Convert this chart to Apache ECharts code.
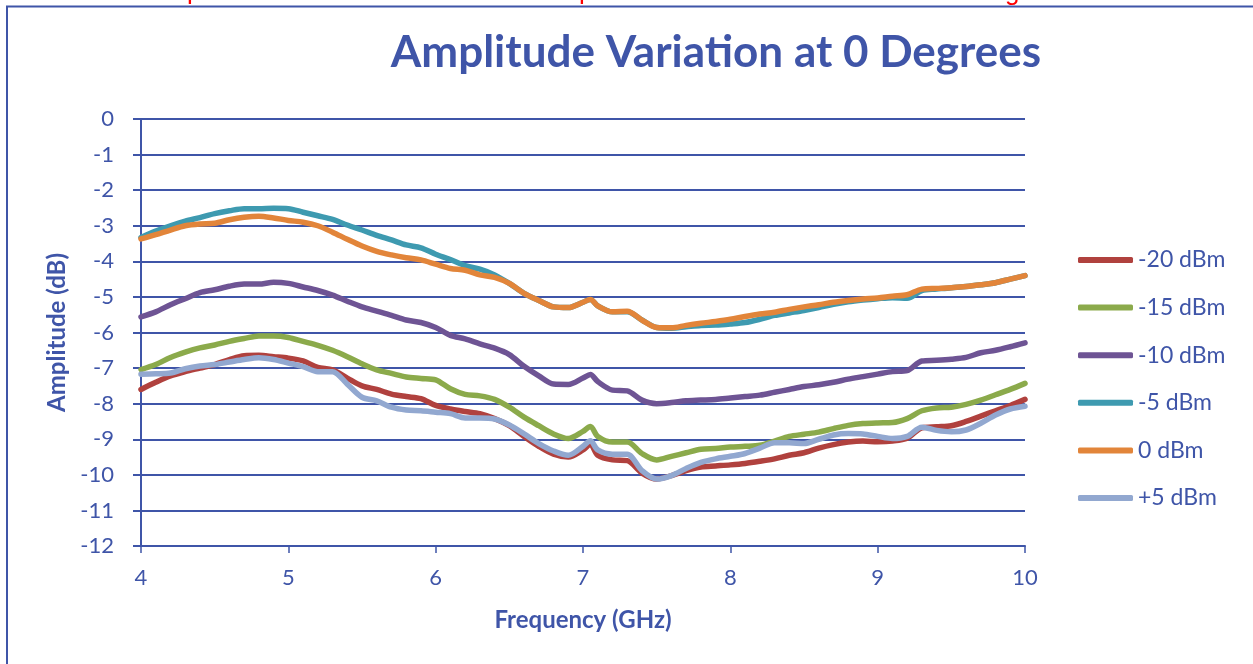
<!DOCTYPE html>
<html>
<head>
<meta charset="utf-8">
<script src="https://cdn.jsdelivr.net/npm/echarts@6/dist/echarts.min.js"></script>
<style>html,body{margin:0;padding:0;background:#fff;}#c{width:1253px;height:664px;}</style>
</head>
<body>
<div id="c"></div>
<script>
const freq = [4.0,4.1,4.2,4.3,4.4,4.5,4.6,4.7,4.8,4.9,5.0,5.1,5.2,5.3,5.4,5.5,5.6,5.7,5.8,5.9,6.0,6.1,6.2,6.3,6.4,6.5,6.6,6.7,6.8,6.9,7.0,7.05,7.1,7.2,7.3,7.4,7.5,7.6,7.7,7.8,7.9,8.0,8.1,8.2,8.3,8.4,8.5,8.6,8.7,8.8,8.9,9.0,9.1,9.2,9.3,9.4,9.5,9.6,9.7,9.8,9.9,10.0];
const seriesNames = ['-20 dBm','-15 dBm','-10 dBm','-5 dBm','0 dBm','+5 dBm'];
const m20 = [-7.60,-7.40,-7.22,-7.10,-7.00,-6.90,-6.76,-6.65,-6.64,-6.68,-6.72,-6.80,-6.98,-7.05,-7.28,-7.50,-7.60,-7.73,-7.80,-7.86,-8.05,-8.15,-8.22,-8.28,-8.42,-8.62,-8.92,-9.20,-9.42,-9.50,-9.30,-9.14,-9.45,-9.58,-9.60,-9.95,-10.12,-10.02,-9.88,-9.78,-9.75,-9.72,-9.68,-9.62,-9.55,-9.45,-9.38,-9.25,-9.15,-9.08,-9.05,-9.07,-9.05,-8.97,-8.68,-8.65,-8.62,-8.50,-8.35,-8.20,-8.05,-7.88];
const m15 = [-7.04,-6.90,-6.70,-6.55,-6.43,-6.35,-6.25,-6.17,-6.10,-6.10,-6.14,-6.25,-6.36,-6.50,-6.68,-6.88,-7.05,-7.15,-7.25,-7.29,-7.33,-7.58,-7.74,-7.78,-7.88,-8.10,-8.38,-8.62,-8.85,-8.98,-8.78,-8.64,-8.92,-9.08,-9.08,-9.40,-9.58,-9.48,-9.38,-9.28,-9.26,-9.22,-9.20,-9.17,-9.05,-8.92,-8.86,-8.80,-8.70,-8.61,-8.56,-8.54,-8.53,-8.42,-8.20,-8.12,-8.10,-8.02,-7.90,-7.75,-7.60,-7.43];
const m10 = [-5.56,-5.42,-5.22,-5.05,-4.88,-4.80,-4.70,-4.64,-4.64,-4.59,-4.62,-4.72,-4.82,-4.95,-5.12,-5.28,-5.40,-5.52,-5.65,-5.72,-5.86,-6.08,-6.18,-6.32,-6.44,-6.62,-6.95,-7.22,-7.45,-7.46,-7.28,-7.18,-7.38,-7.62,-7.64,-7.90,-8.00,-7.97,-7.92,-7.90,-7.88,-7.84,-7.80,-7.76,-7.68,-7.60,-7.52,-7.47,-7.40,-7.31,-7.24,-7.17,-7.10,-7.07,-6.80,-6.78,-6.75,-6.70,-6.57,-6.50,-6.40,-6.29];
const m5 = [-3.33,-3.15,-3.00,-2.87,-2.77,-2.66,-2.58,-2.52,-2.52,-2.51,-2.52,-2.62,-2.72,-2.82,-2.98,-3.12,-3.27,-3.40,-3.54,-3.62,-3.80,-3.95,-4.12,-4.22,-4.38,-4.62,-4.90,-5.10,-5.28,-5.30,-5.15,-5.07,-5.25,-5.42,-5.42,-5.65,-5.86,-5.88,-5.84,-5.80,-5.79,-5.76,-5.72,-5.63,-5.52,-5.45,-5.38,-5.30,-5.21,-5.14,-5.09,-5.05,-5.02,-5.04,-4.82,-4.78,-4.74,-4.71,-4.66,-4.60,-4.50,-4.40];
const p0 = [-3.37,-3.25,-3.12,-3.00,-2.95,-2.93,-2.83,-2.76,-2.73,-2.78,-2.85,-2.90,-3.00,-3.18,-3.38,-3.57,-3.72,-3.82,-3.90,-3.96,-4.08,-4.20,-4.25,-4.38,-4.45,-4.62,-4.90,-5.10,-5.28,-5.30,-5.15,-5.07,-5.25,-5.42,-5.40,-5.65,-5.86,-5.87,-5.80,-5.74,-5.69,-5.63,-5.55,-5.48,-5.43,-5.35,-5.28,-5.22,-5.15,-5.10,-5.06,-5.03,-4.98,-4.94,-4.78,-4.76,-4.74,-4.71,-4.66,-4.60,-4.50,-4.40];
const p5 = [-7.17,-7.16,-7.14,-7.02,-6.94,-6.90,-6.83,-6.76,-6.71,-6.76,-6.86,-6.96,-7.10,-7.10,-7.45,-7.82,-7.92,-8.10,-8.18,-8.20,-8.24,-8.28,-8.40,-8.40,-8.43,-8.60,-8.85,-9.12,-9.33,-9.45,-9.20,-9.04,-9.30,-9.42,-9.42,-9.88,-10.12,-10.02,-9.82,-9.65,-9.55,-9.48,-9.40,-9.25,-9.10,-9.10,-9.12,-9.00,-8.88,-8.84,-8.85,-8.92,-8.98,-8.92,-8.66,-8.75,-8.79,-8.74,-8.55,-8.32,-8.15,-8.07];
const xTicks = [4,5,6,7,8,9,10];
const yTicks = [0,-1,-2,-3,-4,-5,-6,-7,-8,-9,-10,-11,-12];

const values = [m20, m15, m10, m5, p0, p5];
const colors = ['#B0413E','#8BAA4B','#6E5494','#3E9AB0','#E2853A','#92A8D0'];
const blue = '#3F55A8';
const font = 'Lato, "Open Sans", sans-serif';

const chart = echarts.init(document.getElementById('c'));
chart.setOption({
  animation: false,
  backgroundColor: '#fff',
  title: {
    text: 'Amplitude Variation at 0 Degrees',
    left: 711, top: 26, textAlign: 'center',
    textStyle: {color: blue, fontFamily: font, fontWeight: 'bold', fontSize: 44}
  },
  graphic: [
    {type: 'rect', shape: {x: 7, y: 6.5, width: 1400, height: 800}, style: {fill: 'none', stroke: blue, lineWidth: 2}, z: 100},
    {type: 'text', x: 187, y: -21, style: {text: 'p', fill: '#FF0000', font: '26px "Liberation Sans"'}, z: 99},
    {type: 'text', x: 579, y: -21, style: {text: 'p', fill: '#FF0000', font: '26px "Liberation Sans"'}, z: 99},
    {type: 'text', x: 1005, y: -20, style: {text: 'g', fill: '#FF0000', font: '26px "Liberation Sans"'}, z: 99}
  ],
  grid: {left: 141, right: 228, top: 119, bottom: 118, containLabel: false},
  legend: {
    orient: 'vertical', left: 1078, top: 246, padding: 0,
    itemWidth: 55, itemHeight: 6, itemGap: 19.6,
    icon: 'roundRect',
    data: seriesNames,
    textStyle: {color: blue, fontFamily: font, fontSize: 23, lineHeight: 28}
  },
  xAxis: {
    type: 'value', min: 4, max: 10, interval: 1,
    name: 'Frequency (GHz)', nameLocation: 'middle', nameGap: 62,
    nameTextStyle: {color: blue, fontFamily: font, fontWeight: 'bold', fontSize: 24},
    axisLine: {onZero: false, lineStyle: {color: blue, width: 2}},
    axisTick: {show: true, inside: false, length: 7, lineStyle: {color: blue, width: 1.5}},
    axisLabel: {color: blue, fontFamily: font, fontSize: 22, margin: 21,
      formatter: v => xTicks.includes(v) ? String(v) : ''},
    splitLine: {show: false}
  },
  yAxis: {
    type: 'value', min: -12, max: 0, interval: 1,
    name: 'Amplitude (dB)', nameLocation: 'middle', nameGap: 72, nameRotate: 90,
    nameTextStyle: {color: blue, fontFamily: font, fontWeight: 'bold', fontSize: 24},
    axisLine: {show: true, lineStyle: {color: blue, width: 2}},
    axisTick: {show: true, length: 8, lineStyle: {color: blue, width: 2}},
    axisLabel: {color: blue, fontFamily: font, fontSize: 22, margin: 27,
      formatter: v => yTicks.includes(v) ? String(v) : ''},
    splitLine: {show: true, lineStyle: {color: blue, width: 2}}
  },
  series: seriesNames.map((n, i) => ({
    name: n, type: 'line', smooth: 0.3, symbol: 'none',
    data: freq.map((f, j) => [f, values[i][j]]),
    lineStyle: {color: colors[i], width: 5.5, cap: 'round', join: 'round'},
    itemStyle: {color: colors[i]}
  }))
});
</script>
</body>
</html>
